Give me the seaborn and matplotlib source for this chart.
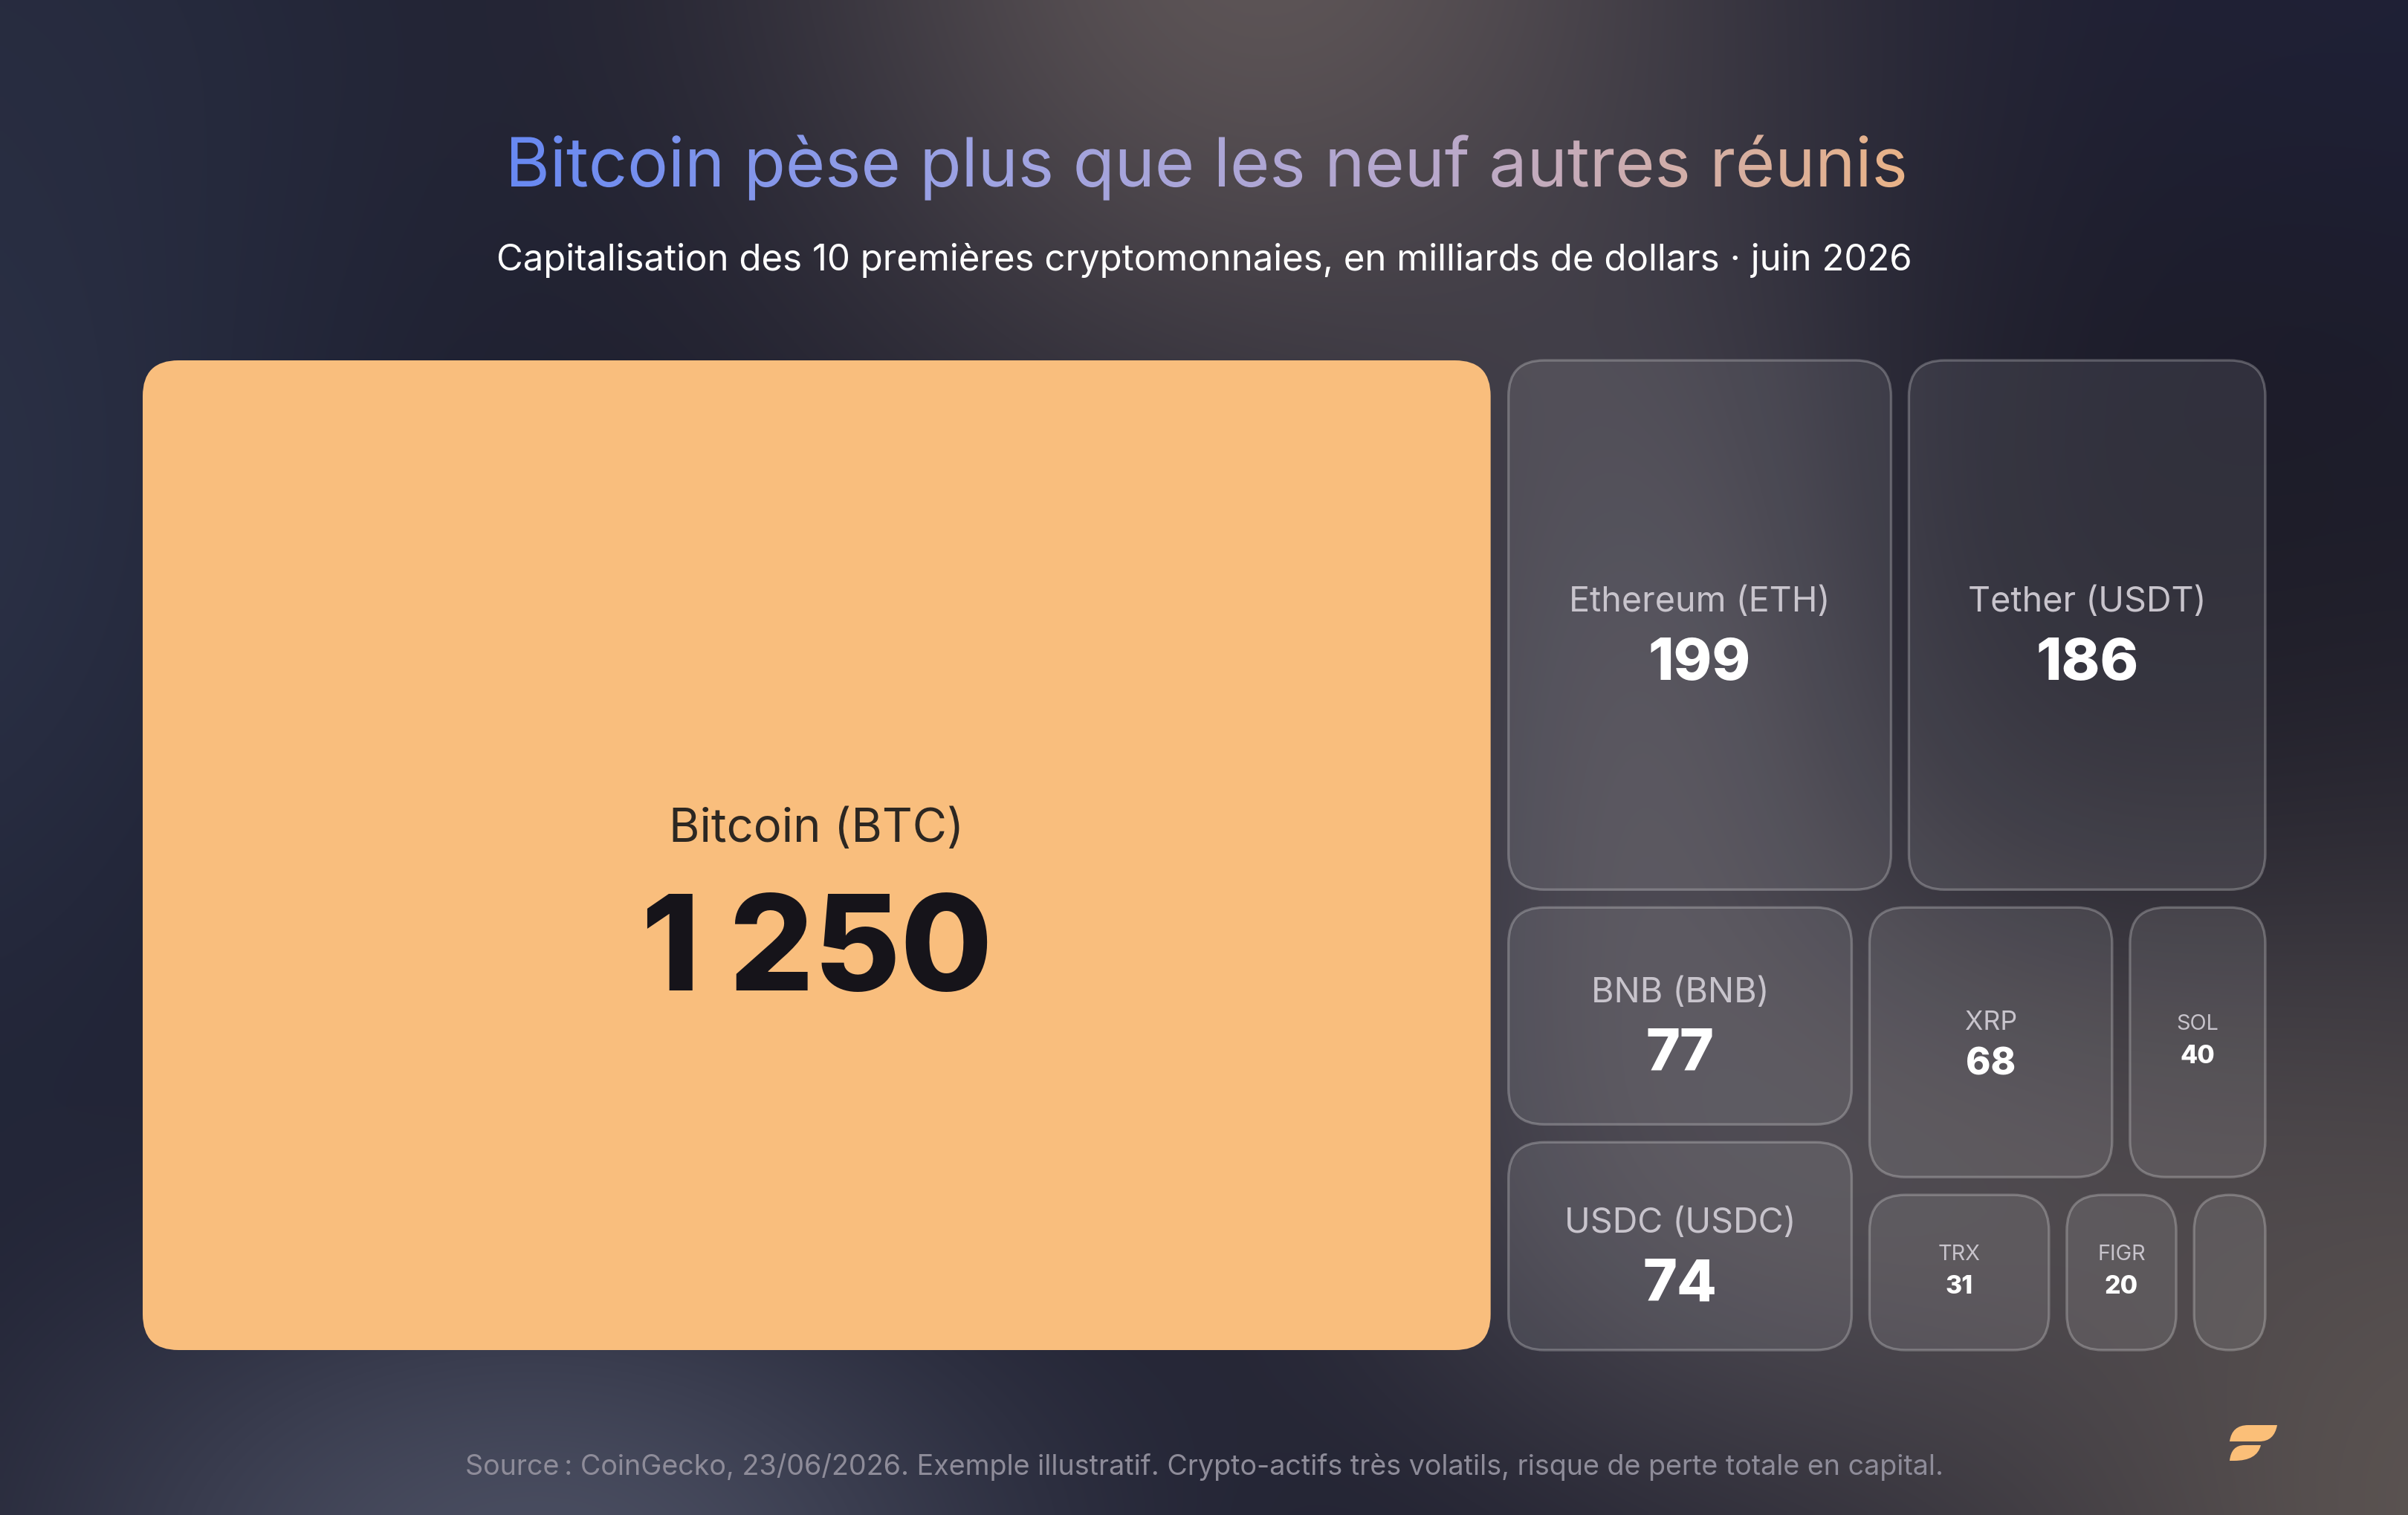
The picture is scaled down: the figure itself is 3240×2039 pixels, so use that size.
import numpy as np
import matplotlib
matplotlib.use("Agg")
import matplotlib.pyplot as plt
import seaborn as sns
from matplotlib.patches import FancyBboxPatch, PathPatch
from matplotlib.path import Path
from matplotlib.patheffects import AbstractPathEffect
from matplotlib.transforms import TransformedPath
from matplotlib.colors import to_rgb

##------------------------------------------------------------------------------
## Données : capitalisation (milliards $), juin 2026
##------------------------------------------------------------------------------
coins = ["Bitcoin (BTC)", "Ethereum (ETH)", "Tether (USDT)", "BNB (BNB)",
         "USDC (USDC)", "XRP", "SOL", "TRX", "FIGR", "10e"]
caps  = [1250, 199, 186, 77, 74, 68, 40, 31, 20, 14]

title    = "Bitcoin pèse plus que les neuf autres réunis"
subtitle = "Capitalisation des 10 premières cryptomonnaies, en milliards de dollars · juin 2026"
source   = ("Source\u202f: CoinGecko, 23/06/2026. Exemple illustratif. "
            "Crypto-actifs très volatils, risque de perte totale en capital.")

W, H, DPI = 3240, 2040, 200
FONT = ["Inter", "DejaVu Sans"]

sns.set_theme(style="white")
plt.rcParams["font.family"] = FONT

##------------------------------------------------------------------------------
## Squarified treemap
##------------------------------------------------------------------------------
def worst(row, side):
    s = sum(row)
    return max(max(side * side * a / (s * s), s * s / (side * side * a)) for a in row)

def squarify(vals, x, y, w, h):
    scale = w * h / sum(vals)
    areas = [v * scale for v in vals]
    rects = []
    i = 0
    while i < len(areas):
        short = min(w, h)
        row = [areas[i]]
        j = i + 1
        while j < len(areas) and worst(row + [areas[j]], short) <= worst(row, short):
            row.append(areas[j])
            j += 1
        s = sum(row)
        if w >= h:
            cw = s / h
            yy = y
            for a in row:
                rects.append((x, yy, cw, a / cw))
                yy += a / cw
            x += cw
            w -= cw
        else:
            rh = s / w
            xx = x
            for a in row:
                rects.append((xx, y, a / rh, rh))
                xx += a / rh
            y += rh
            h -= rh
        i = j
    return rects

##------------------------------------------------------------------------------
## Texte en dégradé (titre)
##------------------------------------------------------------------------------
class GradientFill(AbstractPathEffect):
    def __init__(self, cmap):
        super().__init__()
        self.cmap = cmap

    def draw_path(self, renderer, gc, tpath, affine, rgbFace=None):
        bb = affine.transform_path(tpath).get_extents()
        x0, y0 = int(np.floor(bb.x0)), int(np.floor(bb.y0))
        w = int(np.ceil(bb.x1)) - x0 + 1
        h = int(np.ceil(bb.y1)) - y0 + 1
        rgba = (self.cmap(np.linspace(0, 1, w)) * 255).astype(np.uint8)
        img = np.ascontiguousarray(np.repeat(rgba[None, :, :], h, axis=0))
        gc0 = renderer.new_gc()
        gc0.copy_properties(gc)
        gc0.set_clip_path(TransformedPath(tpath, affine))
        renderer.draw_image(gc0, x0, y0, img)
        gc0.restore()

##------------------------------------------------------------------------------
## Figure + fond
##------------------------------------------------------------------------------
fig = plt.figure(figsize=(W / DPI, H / DPI), dpi=DPI)
ax = fig.add_axes([0, 0, 1, 1])
ax.set_xlim(0, W)
ax.set_ylim(H, 0)
ax.axis("off")

gx, gy = np.meshgrid(np.linspace(0, W, 405), np.linspace(0, H, 255))
bg = np.ones(gx.shape + (3,)) * np.array(to_rgb("#191a2a"))
blobs = [(-150, 650, 450, 650, "#2e354b", 0.85),
         (0, 0, 450, 350, "#2a2f43", 0.6),
         (3240, 0, 500, 420, "#232540", 0.6),
         (1700, -120, 480, 520, "#615859", 0.95),
         (2600, 1550, 520, 330, "#57535a", 0.8),
         (2250, 1000, 280, 520, "#5f5b63", 0.7),
         (3000, 800, 380, 420, "#1b1a25", 0.75),
         (720, 2120, 520, 330, "#4c5063", 0.95),
         (3350, 2050, 520, 560, "#5e5653", 0.95)]
for cx, cy, sx, sy, col, k in blobs:
    m = k * np.exp(-((gx - cx) ** 2 / (2 * sx ** 2) + (gy - cy) ** 2 / (2 * sy ** 2)))
    bg = bg * (1 - m[..., None]) + np.array(to_rgb(col)) * m[..., None]
ax.imshow(bg, extent=[0, W, H, 0], interpolation="bilinear", aspect="auto", zorder=0)

##------------------------------------------------------------------------------
## Tuiles
##------------------------------------------------------------------------------
GAP = 24
rects = squarify(caps, 192 - GAP / 2, 486 - GAP / 2, 2856 + GAP, 1332 + GAP)

# (taille label pt, taille valeur pt, décalage label px, décalage valeur px)
def tier(w):
    if w > 1000:
        return 22.8, 64.4, -42, 116
    if w >= 400:
        return 16.8, 28.2, -36, 44
    if w >= 300:
        return 12.9, 18.3, -31, 24
    if w >= 120:
        return 10.4, 12.2, -28, 15
    return None

for k, (name, val, (x, y, w, h)) in enumerate(zip(coins, caps, rects)):
    x, y, w, h = x + GAP / 2, y + GAP / 2, w - GAP, h - GAP
    r = min(48, w / 2, h / 2)
    if k == 0:
        box = FancyBboxPatch((x, y), w, h, boxstyle=f"round,pad=0,rounding_size={r}",
                             fc="#f9be7d", ec="none", zorder=2)
        c_lab, c_val = "#2c2722", "#16141a"
    else:
        box = FancyBboxPatch((x, y), w, h, boxstyle=f"round,pad=0,rounding_size={r}",
                             fc=(1, 1, 1, 0.09), ec=(1, 1, 1, 0.24), lw=1.2, zorder=2)
        c_lab, c_val = "#c8c4cc", "white"
    ax.add_patch(box)

    t = tier(w)
    if t is None:
        continue
    lab_pt, val_pt, lab_off, val_off = t
    cx, cy = x + w / 2, y + h / 2
    txt = f"{val:,}".replace(",", " ")
    ax.text(cx, cy + lab_off + 0.5 * 0.727 * lab_pt * DPI / 72, name,
            ha="center", va="baseline", fontsize=lab_pt, color=c_lab, zorder=3)
    ax.text(cx, cy + val_off + 0.5 * 0.727 * val_pt * DPI / 72, txt,
            ha="center", va="baseline", fontsize=val_pt, fontweight=800,
            color=c_val, zorder=3)

##------------------------------------------------------------------------------
## Titre, sous-titre, source (ajustés à la largeur)
##------------------------------------------------------------------------------
grad = sns.blend_palette(["#6889f2", "#9ea3e3", "#b9a9cc", "#e9b388"], as_cmap=True)
t_title = ax.text(1622, 252, title, ha="center", va="baseline", fontsize=34,
                  color="white", path_effects=[GradientFill(grad)], zorder=4)
t_sub = ax.text(1620, 364, subtitle, ha="center", va="baseline", fontsize=16,
                color="white", zorder=4)
t_src = ax.text(1621, 1985, source, ha="center", va="baseline", fontsize=13,
                color="#8e8c99", zorder=4)

renderer = fig.canvas.get_renderer()
for t, target in [(t_title, 1886), (t_sub, 1908), (t_src, 1989)]:
    wpx = t.get_window_extent(renderer).width
    t.set_fontsize(t.get_fontsize() * target / wpx)

##------------------------------------------------------------------------------
## Logo
##------------------------------------------------------------------------------
logo_top = Path([(3000, 1941), (3003, 1919), (3025, 1919), (3064, 1919),
                 (3060, 1941), (3040, 1941), (3000, 1941)],
                [Path.MOVETO, Path.CURVE3, Path.CURVE3, Path.LINETO,
                 Path.CURVE3, Path.CURVE3, Path.CLOSEPOLY])
logo_bot = Path([(3000, 1967), (3002, 1946), (3020, 1946), (3042, 1946),
                 (3037, 1967), (3006, 1967), (3000, 1967)],
                [Path.MOVETO, Path.CURVE3, Path.CURVE3, Path.LINETO,
                 Path.CURVE3, Path.CURVE3, Path.CLOSEPOLY])
for p in (logo_top, logo_bot):
    ax.add_patch(PathPatch(p, fc="#fbbf78", ec="none", zorder=4))

fig.savefig("out.png", dpi=DPI)
